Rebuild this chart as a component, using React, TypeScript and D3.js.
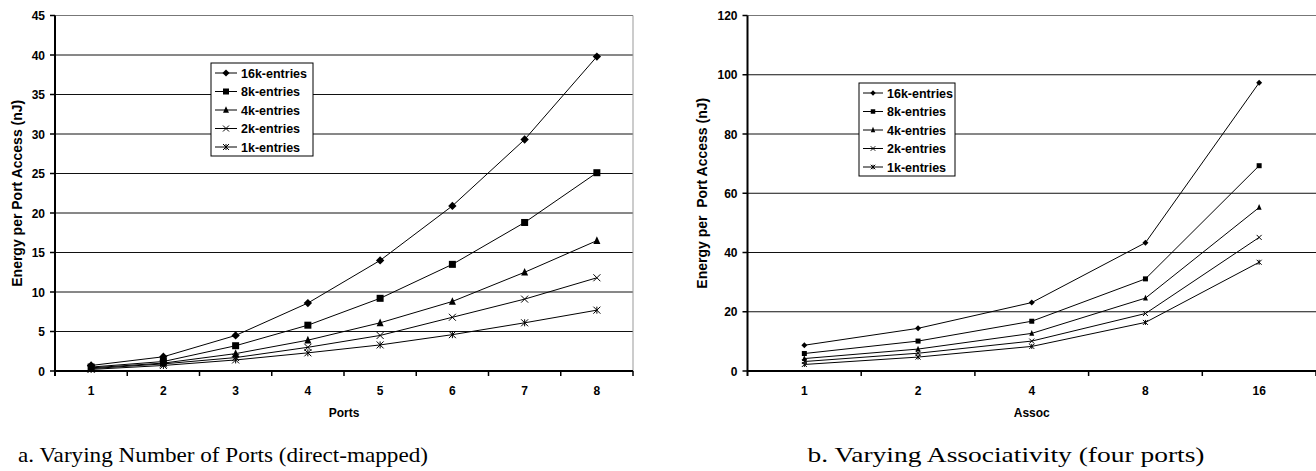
import React from 'react';
import * as d3 from 'd3';

const series = ['16k-entries', '8k-entries', '4k-entries', '2k-entries', '1k-entries'];
const shapes = ['diamond', 'square', 'triangle', 'x', 'star'];

const ports = ['1', '2', '3', '4', '5', '6', '7', '8'];
const portValues = [
  [0.7, 1.8, 4.5, 8.6, 14.0, 20.9, 29.3, 39.8],
  [0.5, 1.2, 3.2, 5.8, 9.2, 13.5, 18.8, 25.1],
  [0.4, 1.0, 2.2, 3.9, 6.1, 8.8, 12.5, 16.5],
  [0.3, 0.9, 1.7, 3.0, 4.5, 6.8, 9.1, 11.8],
  [0.2, 0.7, 1.4, 2.3, 3.3, 4.6, 6.1, 7.7],
];
const portTicks = [0, 5, 10, 15, 20, 25, 30, 35, 40, 45];

const assoc = ['1', '2', '4', '8', '16'];
const assocValues = [
  [8.7, 14.4, 23.1, 43.3, 97.3],
  [5.9, 10.1, 16.8, 31.1, 69.3],
  [4.2, 7.4, 12.7, 24.6, 55.2],
  [3.2, 6.0, 10.1, 19.4, 45.1],
  [2.2, 4.7, 8.3, 16.4, 36.7],
];
const assocTicks = [0, 20, 40, 60, 80, 100, 120];

const font = '"Liberation Sans", Arial, sans-serif';

function Marker({ shape, x, y, s }: { shape: string; x: number; y: number; s: number }) {
  if (shape === 'diamond') {
    return <path d={d3.symbol(d3.symbolDiamond2, s * s * 0.9)()!} transform={`translate(${x},${y})`} fill="#000" />;
  }
  if (shape === 'square') {
    return <rect x={x - s / 2} y={y - s / 2} width={s} height={s} fill="#000" />;
  }
  if (shape === 'triangle') {
    const h = s * 0.95;
    return <path d={`M${x},${y - h / 2 - 1}L${x + s / 2},${y + h / 2}L${x - s / 2},${y + h / 2}Z`} fill="#000" />;
  }
  const r = s / 2;
  const xs = `M${x - r},${y - r}L${x + r},${y + r}M${x - r},${y + r}L${x + r},${y - r}`;
  if (shape === 'x') return <path d={xs} stroke="#000" strokeWidth={1} fill="none" />;
  return <path d={`${xs}M${x},${y - r}L${x},${y + r}`} stroke="#000" strokeWidth={1} fill="none" />;
}

type ChartProps = {
  left: number; right: number; top: number; bottom: number;
  cats: string[]; values: number[][]; ticks: number[];
  xTitle: string; yTitle: string; yTitleX: number;
  markerSize: number; border: boolean;
  legend: { x: number; y: number; w: number; h: number; row: number; lineW: number; fs: number; ms: number };
};

function Chart(p: ChartProps) {
  const x = d3.scaleBand().domain(p.cats).range([p.left, p.right]);
  const y = d3.scaleLinear().domain([0, d3.max(p.ticks)!]).range([p.bottom, p.top]);
  const line = d3.line<number>().x((_, i) => x(p.cats[i])! + x.bandwidth() / 2).y((d) => y(d));
  const bounds = d3.range(p.cats.length + 1).map((i) => p.left + i * x.bandwidth());
  const lg = p.legend;
  return (
    <g fontFamily={font} fontWeight="bold">
      {p.ticks.slice(1).map((t) => (
        <line key={t} x1={p.left} x2={p.right} y1={y(t)} y2={y(t)} stroke={t === d3.max(p.ticks) ? '#777' : '#111'} strokeWidth={1} />
      ))}
      {p.border && <line x1={p.right} x2={p.right} y1={p.top} y2={p.bottom} stroke="#999" strokeWidth={1} />}
      {p.values.map((vals, si) => (
        <g key={si}>
          <path d={line(vals)!} fill="none" stroke="#000" strokeWidth={1} />
          {vals.map((v, i) => (
            <Marker key={i} shape={shapes[si]} x={x(p.cats[i])! + x.bandwidth() / 2} y={y(v)} s={p.markerSize} />
          ))}
        </g>
      ))}
      <line x1={p.left} x2={p.left} y1={p.top} y2={p.bottom + 5} stroke="#000" strokeWidth={2} />
      <line x1={p.left} x2={p.right} y1={p.bottom} y2={p.bottom} stroke="#000" strokeWidth={2} />
      {p.ticks.map((t) => (
        <g key={t}>
          <line x1={p.left - 5} x2={p.left} y1={y(t)} y2={y(t)} stroke="#000" strokeWidth={1.5} />
          <text x={p.left - 10} y={y(t) + 4.5} textAnchor="end" fontSize={12}>{t}</text>
        </g>
      ))}
      {bounds.slice(1).map((b, i) => (
        <line key={i} x1={b} x2={b} y1={p.bottom} y2={p.bottom + 5} stroke="#000" strokeWidth={1.5} />
      ))}
      {p.cats.map((c) => (
        <text key={c} x={x(c)! + x.bandwidth() / 2} y={p.bottom + 24} textAnchor="middle" fontSize={12}>{c}</text>
      ))}
      <text x={(p.left + p.right) / 2} y={p.bottom + 46} textAnchor="middle" fontSize={12}>{p.xTitle}</text>
      <text transform={`translate(${p.yTitleX},${(p.top + p.bottom) / 2}) rotate(-90)`} textAnchor="middle" fontSize={14} dy={5} style={{ whiteSpace: 'pre' }}>{p.yTitle}</text>
      <rect x={lg.x} y={lg.y} width={lg.w} height={lg.h} fill="#fff" stroke="#000" strokeWidth={1} />
      {series.map((s, i) => {
        const cy = lg.y + 10 + i * lg.row;
        return (
          <g key={s}>
            <line x1={lg.x + 4} x2={lg.x + 4 + lg.lineW} y1={cy} y2={cy} stroke="#000" strokeWidth={1} />
            <Marker shape={shapes[i]} x={lg.x + 4 + lg.lineW / 2} y={cy} s={lg.ms} />
            <text x={lg.x + 8 + lg.lineW} y={cy + 4.5} fontSize={lg.fs}>{s}</text>
          </g>
        );
      })}
    </g>
  );
}

export default function App() {
  return (
    <div style={{ position: 'absolute', left: 0, top: 0 }}>
      <svg width={1316} height={471} style={{ display: 'block', background: '#fff' }}>
        <Chart
          left={55} right={633} top={15.5} bottom={371}
          cats={ports} values={portValues} ticks={portTicks}
          xTitle="Ports" yTitle="Energy per Port Access (nJ)" yTitleX={17}
          markerSize={7} border={true}
          legend={{ x: 211, y: 63, w: 102, h: 93, row: 18.5, lineW: 22, fs: 12.5, ms: 6 }}
        />
        <Chart
          left={747.5} right={1316} top={15.5} bottom={371}
          cats={assoc} values={assocValues} ticks={assocTicks}
          xTitle="Assoc" yTitle="Energy per  Port Access (nJ)" yTitleX={702}
          markerSize={5} border={false}
          legend={{ x: 859, y: 83, w: 96, h: 93, row: 18.5, lineW: 20, fs: 12.5, ms: 4.5 }}
        />
        <text x={223} y={462} textAnchor="middle" fontFamily='"Liberation Serif", "DejaVu Serif", serif' fontSize={22} textLength={410} lengthAdjust="spacingAndGlyphs">
          a. Varying Number of Ports (direct-mapped)
        </text>
        <text x={1006} y={462} textAnchor="middle" fontFamily='"Liberation Serif", "DejaVu Serif", serif' fontSize={22} textLength={397} lengthAdjust="spacingAndGlyphs">
          b. Varying Associativity (four ports)
        </text>
      </svg>
    </div>
  );
}
